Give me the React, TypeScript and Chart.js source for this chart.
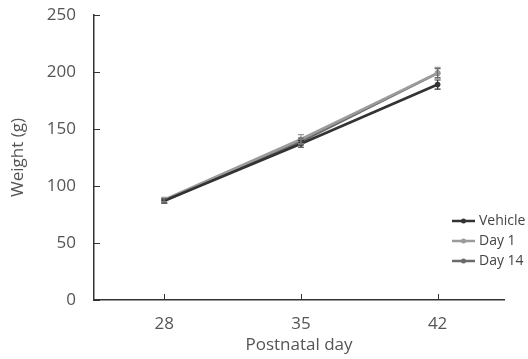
import React, { useEffect, useRef } from "react";
import { Chart, registerables } from "chart.js";
Chart.register(...registerables);

const days = [28, 35, 42];
const seriesNames = ["Vehicle", "Day 1", "Day 14"];
const vehicle = [87, 137, 189];
const day1 = [88, 141, 199];
const day14 = [87, 139, 199];
const vehicleErr = [2, 3, 4];
const day1Err = [2, 4, 5];
const day14Err = [2, 3, 4];
const yTicks = [0, 50, 100, 150, 200, 250];
const colors = ["#333333", "#9b9b9b", "#6a6a6a"];

const FONT = "'Open Sans', sans-serif";

export default function App() {
  const ref = useRef<HTMLCanvasElement>(null);
  useEffect(() => {
    document.body.style.margin = "0";
    const values = [vehicle, day1, day14];
    const errs = [vehicleErr, day1Err, day14Err];
    const extras = {
      id: "extras",
      afterDatasetsDraw(chart: any) {
        const ctx = chart.ctx;
        const xs = chart.scales.x;
        const ys = chart.scales.y;
        ctx.save();
        values.forEach((vals, si) => {
          ctx.strokeStyle = colors[si];
          ctx.lineWidth = 1.2;
          vals.forEach((v, i) => {
            const x = xs.getPixelForValue(days[i]);
            const y1 = ys.getPixelForValue(v + errs[si][i]);
            const y2 = ys.getPixelForValue(v - errs[si][i]);
            ctx.beginPath();
            ctx.moveTo(x, y1);
            ctx.lineTo(x, y2);
            ctx.moveTo(x - 3, y1);
            ctx.lineTo(x + 3, y1);
            ctx.moveTo(x - 3, y2);
            ctx.lineTo(x + 3, y2);
            ctx.stroke();
          });
        });
        ctx.strokeStyle = "#333";
        ctx.lineWidth = 1;
        yTicks.forEach((t) => {
          const y = Math.round(ys.getPixelForValue(t)) + 0.5;
          ctx.beginPath();
          ctx.moveTo(chart.chartArea.left, y);
          ctx.lineTo(chart.chartArea.left + 6, y);
          ctx.stroke();
        });
        days.forEach((d) => {
          const x = Math.round(xs.getPixelForValue(d)) + 0.5;
          ctx.beginPath();
          ctx.moveTo(x, chart.chartArea.bottom);
          ctx.lineTo(x, chart.chartArea.bottom - 6);
          ctx.stroke();
        });
        ctx.font = "14px " + FONT;
        ctx.textBaseline = "middle";
        seriesNames.forEach((name, i) => {
          const y = 221 + i * 20;
          ctx.strokeStyle = colors[i];
          ctx.lineWidth = 2.5;
          ctx.beginPath();
          ctx.moveTo(452, y);
          ctx.lineTo(475, y);
          ctx.stroke();
          ctx.fillStyle = colors[i];
          ctx.beginPath();
          ctx.arc(463.5, y, 2.5, 0, Math.PI * 2);
          ctx.fill();
          ctx.fillStyle = "#444";
          ctx.fillText(name, 479, y);
        });
        ctx.restore();
      },
    };
    const chart = new Chart(ref.current!, {
      type: "line",
      data: {
        datasets: values.map((vals, si) => ({
          label: seriesNames[si],
          data: vals.map((v, i) => ({ x: days[i], y: v })),
          borderColor: colors[si],
          backgroundColor: colors[si],
          borderWidth: 2.6,
          pointRadius: 2.8,
          pointBorderWidth: 0,
          pointStyle: "circle",
          tension: 0,
        })),
      },
      options: {
        animation: false,
        responsive: false,
        layout: { padding: { top: 15, right: 24, left: 0, bottom: 0 } },
        plugins: { legend: { display: false }, tooltip: { enabled: false } },
        scales: {
          x: {
            type: "linear",
            min: 24.4,
            max: 45.4,
            afterBuildTicks: (s: any) => {
              s.ticks = days.map((d) => ({ value: d }));
            },
            afterFit: (s: any) => {
              s.height = 59;
              s.paddingLeft = 0;
              s.paddingRight = 0;
            },
            grid: { display: false },
            border: { display: true, color: "#333", width: 1.5 },
            ticks: { font: { family: FONT, size: 17 }, color: "#555", padding: 6 },
            title: {
              display: true,
              text: "Postnatal day",
              font: { family: FONT, size: 17 },
              color: "#555",
              padding: { top: 3 },
            },
          },
          y: {
            min: 0,
            max: 250,
            afterBuildTicks: (s: any) => {
              s.ticks = yTicks.map((t) => ({ value: t }));
            },
            afterFit: (s: any) => {
              s.width = 94;
              s.paddingTop = 0;
              s.paddingBottom = 0;
            },
            grid: { display: false },
            border: { display: true, color: "#333", width: 1.5 },
            ticks: { font: { family: FONT, size: 17 }, color: "#555", padding: 10 },
            title: {
              display: true,
              text: "Weight (g)",
              font: { family: FONT, size: 17 },
              color: "#555",
              padding: { top: 8, bottom: 0 },
            },
          },
        },
      },
      plugins: [extras],
    } as any);
    return () => chart.destroy();
  }, []);
  return <canvas ref={ref} width={528} height={359} style={{ display: "block" }} />;
}
